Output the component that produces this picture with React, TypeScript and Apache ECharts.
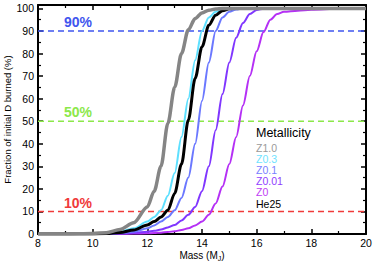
import React, { useEffect, useRef } from "react";
import * as echarts from "echarts";

const massGrid = [8, 9, 10, 10.5, 11, 11.5, 12, 12.25, 12.5, 12.75, 13, 13.25, 13.5, 13.75, 14, 14.25, 14.5, 14.75, 15, 15.25, 15.5, 15.75, 16, 16.25, 16.5, 16.75, 17, 17.5, 18, 19, 20];

const z10 = [0, 0, 0.2, 0.6, 2, 5, 12, 19, 30, 49, 65, 80, 90.5, 95.5, 98, 99.2, 99.7, 100, 100, 100, 100, 100, 100, 100, 100, 100, 100, 100, 100, 100, 100];
const z03 = [0, 0, 0.1, 0.3, 1, 2.5, 5.5, 7.5, 10.5, 17, 27, 43, 60, 77, 90, 96, 98.5, 99.5, 100, 100, 100, 100, 100, 100, 100, 100, 100, 100, 100, 100, 100];
const he25 = [0, 0, 0, 0.2, 0.7, 1.8, 4, 5.5, 7.5, 10.5, 18, 31, 50.5, 69, 83, 92.5, 97, 99, 99.8, 100, 100, 100, 100, 100, 100, 100, 100, 100, 100, 100, 100];
const z01 = [0, 0, 0, 0.1, 0.4, 1, 2.5, 3.8, 5.5, 7.5, 10.5, 16, 25, 40, 59, 76, 90, 96, 98.5, 99.5, 100, 100, 100, 100, 100, 100, 100, 100, 100, 100, 100];
const z001 = [0, 0, 0, 0.1, 0.2, 0.5, 1, 1.4, 2, 2.9, 4, 6, 8.5, 12, 19, 30, 46, 62, 76, 87, 93.5, 97.5, 99.3, 99.8, 100, 100, 100, 100, 100, 100, 100];
const z0 = [0, 0, 0, 0, 0.1, 0.2, 0.3, 0.45, 0.6, 0.9, 1.2, 1.8, 2.5, 3.8, 5.5, 8.5, 13.5, 21, 31, 43, 57, 70, 81, 89.5, 95, 97.5, 98.5, 99, 99.4, 99.8, 100];

const thresholds = [90, 50, 10];
const thresholdLabels = ["90%", "50%", "10%"];
const thresholdColors = ["#3f55ee", "#8ce84a", "#f03a3a"];

const legendTitle = "Metallicity";
const legendNames = ["Z1.0", "Z0.3", "Z0.1", "Z0.01", "Z0", "He25"];
const legendColors = ["#9a9a9a", "#6fe3ff", "#7880ff", "#9040ff", "#c03cf5", "#000000"];

const FONT = "'Liberation Sans', Arial, Helvetica, sans-serif";

export default function App() {
  const ref = useRef<HTMLDivElement>(null);
  useEffect(() => {
    if (!ref.current) return;
    const chart = echarts.init(ref.current, undefined, { renderer: "svg" });
    const pairs = (ys: number[]) => massGrid.map((m, i) => [m, ys[i]]);
    const curve = (name: string, ys: number[], color: string, width: number, z: number) => ({
      name,
      type: "line",
      data: pairs(ys),
      showSymbol: false,
      symbol: "none",
      smooth: 0.3,
      smoothMonotone: "x",
      z,
      lineStyle: { color, width },
      silent: true,
    });
    const dashed = thresholds.map((t, i) => ({
      type: "line",
      data: [[8, t], [20, t]],
      showSymbol: false,
      symbol: "none",
      z: 1,
      silent: true,
      lineStyle: { color: thresholdColors[i], width: 1.5, type: [6, 4] },
    }));
    const xBase = {
      type: "value",
      min: 8,
      max: 20,
      interval: 2,
      splitLine: { show: false },
      axisLine: { show: true, onZero: false, lineStyle: { color: "#000", width: 2 } },
      axisTick: { show: true, inside: true, length: 5, lineStyle: { color: "#000", width: 1.5 } },
      minorTick: { show: true, splitNumber: 2, length: 3, lineStyle: { color: "#000", width: 1.2 } },
    };
    const yBase = {
      type: "value",
      min: 0,
      max: 101.5,
      interval: 10,
      splitLine: { show: false },
      axisLine: { show: true, onZero: false, lineStyle: { color: "#000", width: 2 } },
      axisTick: { show: true, inside: true, length: 5, lineStyle: { color: "#000", width: 1.5 } },
      minorTick: { show: true, splitNumber: 2, length: 3, lineStyle: { color: "#000", width: 1.2 } },
    };
    const option: any = {
      animation: false,
      grid: { left: 38, right: 9, top: 5, bottom: 32, containLabel: false, outerBoundsMode: "none" },
      xAxis: [
        {
          ...xBase,
          position: "bottom",
          name: "Mass (M{sub|J})",
          nameLocation: "middle",
          nameGap: 15,
          nameMoveOverlap: false,
          nameTextStyle: {
            fontFamily: FONT,
            fontSize: 10,
            color: "#000",
            rich: { sub: { fontFamily: FONT, fontSize: 7, color: "#000", padding: [6, 0, 0, 0] } },
          },
          axisLabel: { fontFamily: FONT, fontSize: 10.5, color: "#000", margin: 3 },
        },
        { ...xBase, position: "top", axisLabel: { show: false } },
      ],
      yAxis: [
        {
          ...yBase,
          position: "left",
          name: "Fraction of initial D burned (%)",
          nameLocation: "middle",
          nameGap: 26,
          nameMoveOverlap: false,
          nameTextStyle: { fontFamily: FONT, fontSize: 9.5, color: "#000" },
          axisLabel: {
            fontFamily: FONT,
            fontSize: 10.5,
            color: "#000",
            margin: 4,
            formatter: (v: number) => (Math.abs(v % 10) < 1e-6 ? String(v) : ""),
          },
        },
        { ...yBase, position: "right", axisLabel: { show: false } },
      ],
      series: [
        ...dashed,
        curve("Z0", z0, "#b530f5", 2, 2),
        curve("Z0.01", z001, "#8036ff", 2, 3),
        curve("Z0.1", z01, "#6b78ff", 2, 4),
        curve("Z0.3", z03, "#5ee0ff", 2, 5),
        curve("He25", he25, "#000000", 3, 6),
        curve("Z1.0", z10, "#858585", 3.5, 7),
      ],
      graphic: [
        ...thresholdLabels.map((t, i) => ({
          type: "text",
          left: 64,
          top: [15, 105, 196][i],
          style: {
            text: t,
            fill: thresholdColors[i],
            font: `bold 14px ${FONT}`,
          },
        })),
        {
          type: "text",
          left: 256,
          top: 126,
          style: { text: legendTitle, fill: "#000", font: `12.5px ${FONT}` },
        },
        ...legendNames.map((n, i) => ({
          type: "text",
          left: 256,
          top: 142 + i * 11.2,
          style: { text: n, fill: legendColors[i], font: `10.5px ${FONT}` },
        })),
      ],
    };
    chart.setOption(option);
    return () => chart.dispose();
  }, []);
  return (
    <div
      ref={ref}
      style={{ position: "fixed", left: 0, top: 0, width: 375, height: 266, background: "#fff" }}
    />
  );
}
